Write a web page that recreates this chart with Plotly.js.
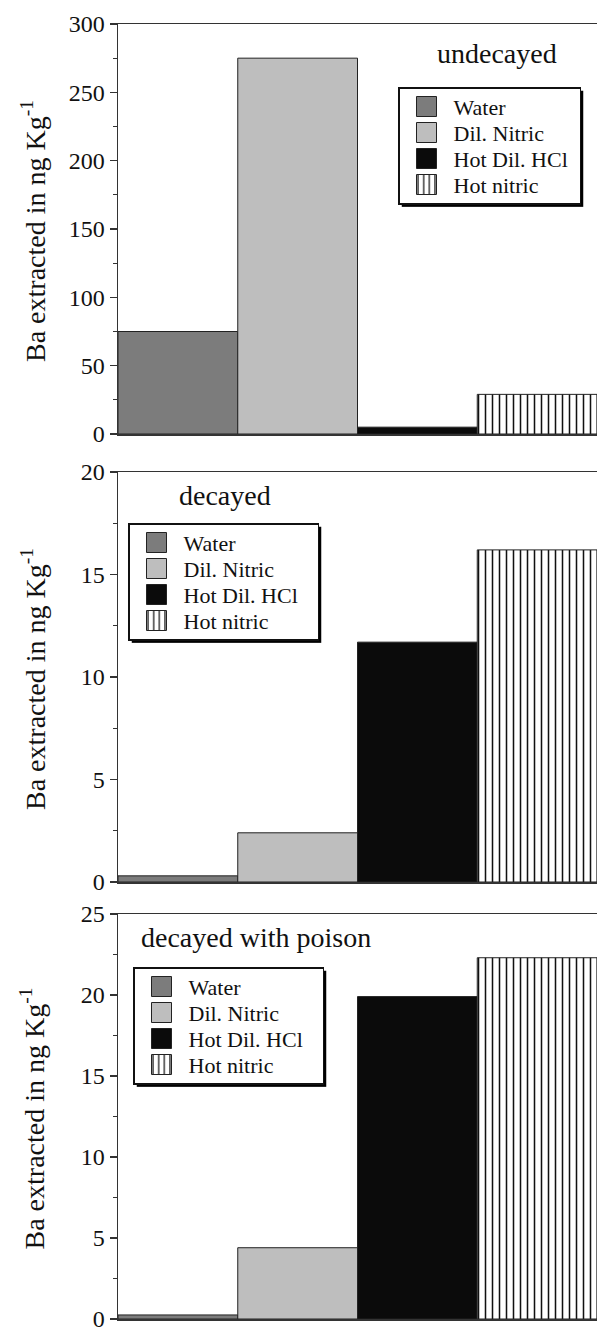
<!DOCTYPE html>
<html>
<head>
<meta charset="utf-8">
<script src="https://cdn.plot.ly/plotly-3.0.1.min.js"></script>
<style>
html,body{margin:0;padding:0;background:#fff;}
#chart{width:597px;height:1328px;}
#chart svg text{font-family:'Liberation Serif','Times New Roman',serif !important;}
</style>
</head>
<body>
<div id="chart"></div>
<script>
// ---- data ----
var categories = ['Water', 'Dil. Nitric', 'Hot Dil. HCl', 'Hot nitric'];
var panelTitles = ['undecayed', 'decayed', 'decayed with poison'];
var undecayedValues = [75, 275, 5, 29];
var decayedValues = [0.3, 2.4, 11.7, 16.2];
var poisonValues = [0.25, 4.4, 19.9, 22.3];
var yTitle = 'Ba extracted in ng Kg<sup>-1</sup>';

var panelValues = [undecayedValues, decayedValues, poisonValues];
var yRanges = [[0, 300], [0, 20], [0, 25]];
var yDticks = [50, 5, 5];
var yMinor = [25, 2.5, 2.5];

var W = 597, H = 1328, ML = 118, MR = 0;
var PW = W - ML - MR;
var panelPx = [[24, 434], [472, 882], [914, 1319]];
var fillColors = ['#7c7c7c', '#bebebe', '#0b0b0b', '#ffffff'];
var serif = 'Liberation Serif';

var data = [];
panelValues.forEach(function (vals, p) {
  var sfx = p === 0 ? '' : String(p + 1);
  categories.forEach(function (c, s) {
    var marker = { color: fillColors[s], line: { color: '#222', width: 1 } };
    if (s === 3) {
      marker.pattern = { shape: '|', size: 7, solidity: 0.22, fgcolor: '#111', bgcolor: '#ffffff', fillmode: 'replace' };
    }
    data.push({
      type: 'bar',
      x: [c],
      y: [vals[s]],
      name: c,
      xaxis: 'x' + sfx,
      yaxis: 'y' + sfx,
      legend: 'legend' + sfx,
      marker: marker,
      hoverinfo: 'skip'
    });
  });
});

function dom(p) { return [1 - panelPx[p][1] / H, 1 - panelPx[p][0] / H]; }

var layout = {
  width: W, height: H,
  margin: { l: ML, r: MR, t: 0, b: 0 },
  paper_bgcolor: '#ffffff', plot_bgcolor: '#ffffff',
  barmode: 'overlay', bargap: 0,
  font: { family: serif, color: '#111', size: 22 },
  annotations: []
};

var legendPos = [[398, 87], [128, 523], [133, 967]];
var titlePos = [[497, 54], [225, 495], [256, 937]];
var yTitleX = 33;

for (var p = 0; p < 3; p++) {
  var sfx = p === 0 ? '' : String(p + 1);
  layout['xaxis' + sfx] = {
    domain: [0, 1], anchor: 'y' + sfx, type: 'category',
    categoryorder: 'array', categoryarray: categories,
    range: [-0.5, 3.5], showticklabels: false, ticks: '',
    showline: true, mirror: true, linecolor: '#333', linewidth: 1.5,
    showgrid: false, zeroline: false, fixedrange: true
  };
  layout['yaxis' + sfx] = {
    domain: dom(p), anchor: 'x' + sfx, range: yRanges[p], dtick: yDticks[p], tick0: 0,
    ticks: 'outside', ticklen: 7, tickwidth: 1.5, tickcolor: '#333',
    minor: { ticks: 'outside', ticklen: 4, dtick: yMinor[p], tickcolor: '#333', tickwidth: 1 },
    showline: true, linecolor: '#333', linewidth: 1.5,
    showgrid: false, zeroline: false, fixedrange: true,
    ticklabeloverflow: 'allow',
    tickfont: { family: serif, size: 24, color: '#111' }
  };
  layout['legend' + sfx] = {
    x: (legendPos[p][0] - ML) / PW, y: 1 - legendPos[p][1] / H,
    xanchor: 'left', yanchor: 'top', xref: 'paper', yref: 'paper',
    bgcolor: '#ffffff', bordercolor: '#111', borderwidth: 1.5,
    font: { family: serif, size: 22, color: '#111' },
    itemwidth: 44,
    traceorder: 'normal'
  };
  layout.annotations.push({
    text: panelTitles[p], xref: 'paper', yref: 'paper',
    x: (titlePos[p][0] - ML) / PW, y: 1 - titlePos[p][1] / H,
    xanchor: 'center', yanchor: 'middle', showarrow: false,
    font: { family: serif, size: 28, color: '#111' }
  });
  // y-axis title, aligned at the same x in every panel
  layout.annotations.push({
    text: yTitle, xref: 'paper', yref: 'paper', textangle: -90,
    x: (yTitleX - ML) / PW, y: 1 - ((panelPx[p][0] + panelPx[p][1]) / 2 + 2) / H,
    xanchor: 'center', yanchor: 'middle', showarrow: false,
    font: { family: serif, size: 28, color: '#111' }
  });
}

function parseT(t) {
  var m = /translate\(\s*([-\d.e]+)[ ,]+([-\d.e]+)\s*\)/.exec(t || '');
  return m ? [parseFloat(m[1]), parseFloat(m[2])] : [0, 0];
}

var gd = document.getElementById('chart');
Plotly.newPlot(gd, data, layout, { staticPlot: true, displayModeBar: false }).then(function () {
  var SP = 26;
  var extraW = [6, 14, 14];
  ['legend', 'legend2', 'legend3'].forEach(function (cls, li) {
    var g = gd.querySelector('.infolayer g.' + cls);
    if (!g) return;
    var bg = g.querySelector('rect.bg');
    var items = g.querySelectorAll('g.traces');
    if (items.length > 1) {
      var first = parseT(items[0].getAttribute('transform'));
      var second = parseT(items[1].getAttribute('transform'));
      var oldSp = second[1] - first[1];
      if (oldSp > SP) {
        var shrink = (oldSp - SP) * items.length;
        var y0 = first[1] - (oldSp - SP) / 2;
        items.forEach(function (it, i) {
          var t = parseT(it.getAttribute('transform'));
          it.setAttribute('transform', 'translate(' + t[0] + ',' + (y0 + i * SP) + ')');
        });
        var h = parseFloat(bg.getAttribute('height'));
        bg.setAttribute('height', h - shrink);
      }
    }
    var w = parseFloat(bg.getAttribute('width'));
    bg.setAttribute('width', w + extraW[li]);
    var sh = document.createElementNS('http://www.w3.org/2000/svg', 'rect');
    sh.setAttribute('x', parseFloat(bg.getAttribute('x')) + 3);
    sh.setAttribute('y', parseFloat(bg.getAttribute('y')) + 3);
    sh.setAttribute('width', bg.getAttribute('width'));
    sh.setAttribute('height', bg.getAttribute('height'));
    sh.setAttribute('style', 'fill:#000;stroke:none');
    g.insertBefore(sh, bg);
  });
  gd.querySelectorAll('.legendpoints path').forEach(function (p) {
    p.setAttribute('d', 'M10,10H-10V-10H10Z');
  });
});
</script>
</body>
</html>
